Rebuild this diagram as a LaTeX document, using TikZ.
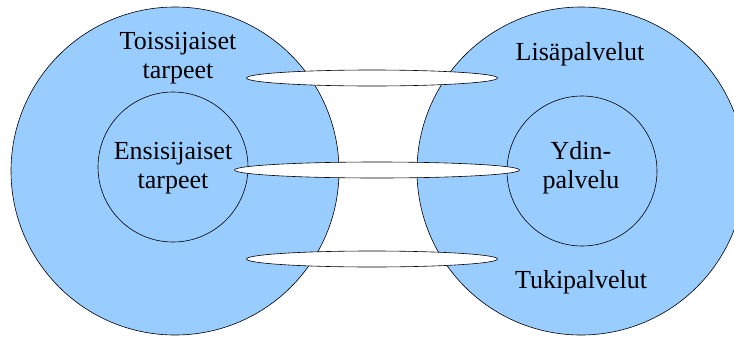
\documentclass[tikz,border=0pt]{standalone}
\usepackage{fontspec}
\newfontfamily\labelfont{Liberation Serif}
\usetikzlibrary{shapes.geometric}

\definecolor{needblue}{RGB}{153,204,255}

\begin{document}
\begin{tikzpicture}[x=1pt,y=-1pt,
    outer/.style={circle, draw, fill=needblue, line width=0.6pt, minimum size=328pt, inner sep=0pt},
    inner/.style={circle, draw, fill=needblue, line width=0.6pt, minimum size=150pt, inner sep=0pt},
    band/.style={ellipse, draw, fill=white, line width=0.6pt, minimum height=16pt, inner sep=0pt},
    label/.style={align=center, font=\labelfont\fontsize{26}{29}\selectfont, inner sep=0pt}]
    \useasboundingbox (0,0) rectangle (734,338);
    % customer side
    \node[outer] (needs) at (175,171) {};
    \node[inner] (core) at (173,167) {};
    % service side
    \node[outer] (offer) at (581,171) {};
    \node[inner] (kernel) at (582,171) {};
    % bands joining the two sides
    \node[band, minimum width=251pt] (top) at (372,78) {};
    \node[band, minimum width=285pt] (mid) at (377,170) {};
    \node[band, minimum width=251pt] (bot) at (372,259) {};
    % texts
    \node[label] (sec) at (178,58) {Toissijaiset\\tarpeet};
    \node[label] (pri) at (173,168) {Ensisijaiset\\tarpeet};
    \node[label] (add) at (580,54) {Lisäpalvelut};
    \node[label] (ydin) at (581,168) {Ydin-\\palvelu};
    \node[label] (sup) at (581,282) {Tukipalvelut};
\end{tikzpicture}
\end{document}
